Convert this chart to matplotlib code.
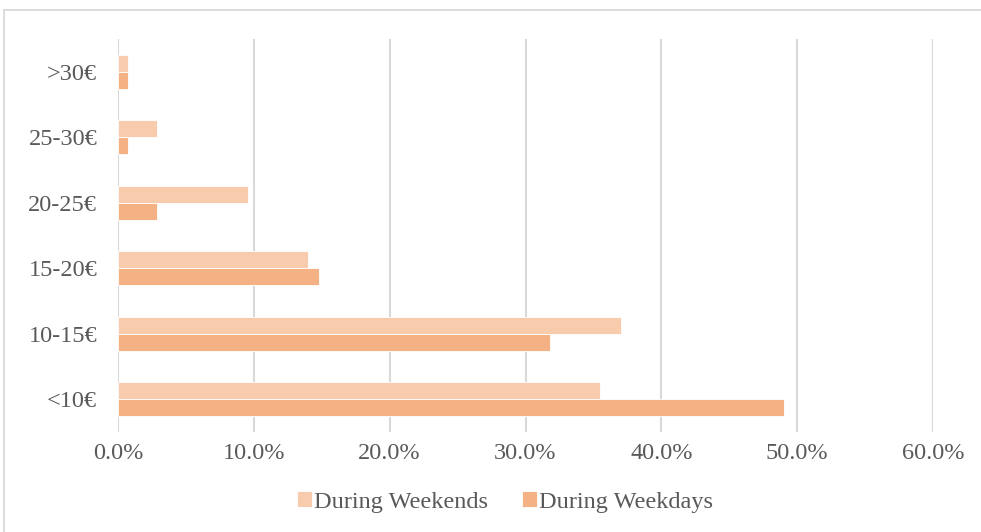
"""
Horizontal grouped bar chart: spending per visit, weekends vs weekdays.
"""
import matplotlib
matplotlib.use("Agg")
import matplotlib.pyplot as plt
import numpy as np
from matplotlib.patches import Rectangle
from matplotlib.ticker import FuncFormatter

# ── Data ────────────────────────────────────────────────────────────────
categories = ["<10€", "10-15€", "15-20€", "20-25€", "25-30€", ">30€"]
weekends   = [35.5, 37.0, 14.0, 9.6, 2.9, 0.7]
weekdays   = [49.0, 31.8, 14.8, 2.9, 0.7, 0.7]
x_ticks    = [0, 10, 20, 30, 40, 50, 60]

# ── Style ───────────────────────────────────────────────────────────────
C_WEEKEND = "#F8CBAD"
C_WEEKDAY = "#F4B183"
TXT       = "#595959"
GRID      = "#D9D9D9"
BAR_H     = 0.26
FS        = 17.5

plt.rcParams["font.family"] = ["Liberation Serif", "DejaVu Serif"]

W, H = 981, 532
fig = plt.figure(figsize=(W / 100, H / 100), dpi=100)
ax = fig.add_axes([118 / W, 1 - 432 / H, (933 - 118) / W, (432 - 39) / H])

# outer chart border (light grey)
fig.patches.append(Rectangle((4 / W, -0.01), 1.0, 1 - 9.5 / H + 0.01,
                             transform=fig.transFigure, fill=False,
                             edgecolor="#D9D9D9", linewidth=1.3))

y = np.arange(len(categories))
ax.barh(y + BAR_H / 2, weekends, height=BAR_H, color=C_WEEKEND,
        edgecolor="white", linewidth=0.6, label="During Weekends", zorder=3)
ax.barh(y - BAR_H / 2, weekdays, height=BAR_H, color=C_WEEKDAY,
        edgecolor="white", linewidth=0.6, label="During Weekdays", zorder=3)

ax.set_xlim(0, 60)
ax.set_ylim(-0.5, len(categories) - 0.5)
ax.set_xticks(x_ticks)
ax.xaxis.set_major_formatter(FuncFormatter(lambda v, _: f"{v:.1f}%"))
ax.set_yticks(y)
ax.set_yticklabels(categories)

ax.grid(axis="x", color=GRID, linewidth=1.5, zorder=0)
ax.set_axisbelow(True)
for s in ax.spines.values():
    s.set_visible(False)
ax.tick_params(axis="both", length=0, labelsize=FS, colors=TXT)
ax.tick_params(axis="x", pad=8)
ax.tick_params(axis="y", pad=15)

leg = fig.legend(loc="center", bbox_to_anchor=(505 / W, 1 - 502 / H), ncol=2,
                 frameon=False, fontsize=FS, handlelength=0.6,
                 handleheight=0.6, handletextpad=0.1, columnspacing=1.4)
for t in leg.get_texts():
    t.set_color(TXT)

fig.savefig("out.png", dpi=100)
